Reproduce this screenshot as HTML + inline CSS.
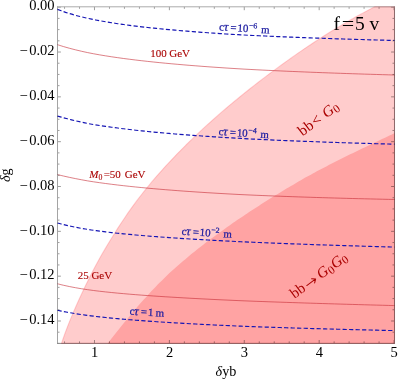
<!DOCTYPE html>
<html><head><meta charset="utf-8"><style>html,body{margin:0;padding:0;background:#fff}body{width:399px;height:380px;overflow:hidden;position:relative;font-family:"Liberation Serif",serif}</style></head><body><svg width="399" height="380" viewBox="0 0 399 380" style="position:absolute;left:0;top:0" font-family="Liberation Serif, serif">
<rect width="399" height="380" fill="#fff"/>
<path d="M61.46,343.40 C62.13,341.50 64.14,335.64 65.48,332.00 C66.82,328.36 68.16,324.93 69.50,321.58 C70.84,318.22 72.17,315.02 73.51,311.88 C74.85,308.74 76.19,305.71 77.53,302.73 C78.87,299.74 80.21,296.84 81.55,293.98 C82.89,291.12 84.22,288.32 85.56,285.56 C86.90,282.80 88.24,280.10 89.58,277.44 C90.92,274.78 92.26,272.18 93.60,269.62 C94.93,267.06 96.27,264.56 97.61,262.10 C98.95,259.63 100.29,257.22 101.63,254.85 C102.97,252.48 104.31,250.17 105.65,247.88 C106.98,245.60 108.32,243.37 109.66,241.17 C111.00,238.97 112.34,236.81 113.68,234.67 C115.02,232.54 116.36,230.43 117.69,228.35 C119.03,226.27 120.37,224.22 121.71,222.19 C123.05,220.17 124.39,218.17 125.73,216.21 C127.07,214.25 128.40,212.32 129.74,210.42 C131.08,208.53 132.42,206.67 133.76,204.84 C135.10,203.01 136.44,201.22 137.78,199.45 C139.12,197.68 140.45,195.94 141.79,194.23 C143.13,192.52 144.47,190.83 145.81,189.17 C147.15,187.51 148.49,185.88 149.83,184.26 C151.16,182.65 152.50,181.06 153.84,179.48 C155.18,177.91 156.52,176.36 157.86,174.83 C159.20,173.30 160.54,171.79 161.87,170.29 C163.21,168.80 164.55,167.32 165.89,165.86 C167.23,164.39 168.57,162.95 169.91,161.52 C171.25,160.09 172.59,158.67 173.92,157.27 C175.26,155.87 176.60,154.48 177.94,153.11 C179.28,151.74 180.62,150.37 181.96,149.03 C183.30,147.68 184.63,146.34 185.97,145.01 C187.31,143.69 188.65,142.37 189.99,141.07 C191.33,139.77 192.67,138.48 194.01,137.20 C195.35,135.91 196.68,134.64 198.02,133.38 C199.36,132.12 200.70,130.87 202.04,129.63 C203.38,128.39 204.72,127.16 206.06,125.94 C207.39,124.72 208.73,123.50 210.07,122.30 C211.41,121.10 212.75,119.90 214.09,118.72 C215.43,117.53 216.77,116.35 218.10,115.18 C219.44,114.01 220.78,112.85 222.12,111.70 C223.46,110.54 224.80,109.40 226.14,108.26 C227.48,107.12 228.82,105.99 230.15,104.87 C231.49,103.74 232.83,102.63 234.17,101.52 C235.51,100.41 236.85,99.31 238.19,98.21 C239.53,97.12 240.86,96.03 242.20,94.95 C243.54,93.87 244.88,92.79 246.22,91.72 C247.56,90.65 248.90,89.59 250.24,88.53 C251.57,87.48 252.91,86.43 254.25,85.38 C255.59,84.34 256.93,83.30 258.27,82.27 C259.61,81.23 260.95,80.20 262.29,79.18 C263.62,78.16 264.96,77.15 266.30,76.13 C267.64,75.12 268.98,74.12 270.32,73.12 C271.66,72.12 273.00,71.12 274.33,70.13 C275.67,69.14 277.01,68.16 278.35,67.18 C279.69,66.20 281.03,65.22 282.37,64.25 C283.71,63.28 285.05,62.32 286.38,61.36 C287.72,60.40 289.06,59.44 290.40,58.49 C291.74,57.55 293.08,56.60 294.42,55.66 C295.76,54.72 297.09,53.79 298.43,52.86 C299.77,51.94 301.11,51.02 302.45,50.10 C303.79,49.19 305.13,48.28 306.47,47.37 C307.80,46.47 309.14,45.57 310.48,44.68 C311.82,43.79 313.16,42.90 314.50,42.02 C315.84,41.14 317.18,40.27 318.52,39.40 C319.85,38.54 321.19,37.68 322.53,36.82 C323.87,35.97 325.21,35.12 326.55,34.28 C327.89,33.44 329.23,32.60 330.56,31.78 C331.90,30.95 333.24,30.12 334.58,29.31 C335.92,28.49 337.26,27.68 338.60,26.88 C339.94,26.08 341.27,25.28 342.61,24.49 C343.95,23.70 345.29,22.92 346.63,22.14 C347.97,21.37 349.31,20.60 350.65,19.83 C351.99,19.07 353.32,18.31 354.66,17.56 C356.00,16.81 357.34,16.07 358.68,15.33 C360.02,14.60 361.36,13.86 362.70,13.14 C364.03,12.42 365.37,11.70 366.71,10.99 C368.05,10.28 369.39,9.57 370.73,8.87 C372.07,8.18 374.08,7.15 374.75,6.80 L394.50,6.80 L394.50,343.40 Z" fill="#ffcccc"/>
<path d="M107.72,343.40 C108.38,342.56 110.37,340.04 111.70,338.36 C113.03,336.68 114.35,335.00 115.68,333.33 C117.01,331.65 118.34,329.98 119.67,328.32 C120.99,326.66 122.32,325.01 123.65,323.37 C124.98,321.73 126.30,320.10 127.63,318.48 C128.96,316.87 130.29,315.26 131.61,313.68 C132.94,312.09 134.27,310.51 135.60,308.96 C136.93,307.40 138.25,305.86 139.58,304.34 C140.91,302.81 142.24,301.30 143.56,299.82 C144.89,298.33 146.22,296.86 147.55,295.40 C148.87,293.95 150.20,292.52 151.53,291.10 C152.86,289.69 154.19,288.29 155.51,286.92 C156.84,285.54 158.17,284.19 159.50,282.85 C160.82,281.51 162.15,280.19 163.48,278.90 C164.81,277.60 166.13,276.32 167.46,275.06 C168.79,273.80 170.12,272.56 171.45,271.34 C172.77,270.12 174.10,268.91 175.43,267.72 C176.76,266.53 178.08,265.35 179.41,264.19 C180.74,263.03 182.07,261.89 183.39,260.76 C184.72,259.62 186.05,258.50 187.38,257.40 C188.71,256.29 190.03,255.20 191.36,254.11 C192.69,253.03 194.02,251.96 195.34,250.90 C196.67,249.84 198.00,248.79 199.33,247.75 C200.66,246.70 201.98,245.67 203.31,244.65 C204.64,243.63 205.97,242.62 207.29,241.61 C208.62,240.61 209.95,239.61 211.28,238.62 C212.60,237.63 213.93,236.65 215.26,235.68 C216.59,234.71 217.92,233.74 219.24,232.78 C220.57,231.82 221.90,230.87 223.23,229.92 C224.55,228.98 225.88,228.04 227.21,227.10 C228.54,226.17 229.86,225.24 231.19,224.32 C232.52,223.39 233.85,222.48 235.18,221.56 C236.50,220.65 237.83,219.74 239.16,218.84 C240.49,217.94 241.81,217.04 243.14,216.15 C244.47,215.25 245.80,214.36 247.12,213.48 C248.45,212.60 249.78,211.71 251.11,210.84 C252.44,209.96 253.76,209.09 255.09,208.22 C256.42,207.36 257.75,206.49 259.07,205.64 C260.40,204.78 261.73,203.93 263.06,203.08 C264.38,202.23 265.71,201.39 267.04,200.55 C268.37,199.71 269.70,198.87 271.02,198.05 C272.35,197.22 273.68,196.39 275.01,195.57 C276.33,194.75 277.66,193.94 278.99,193.13 C280.32,192.32 281.65,191.52 282.97,190.72 C284.30,189.92 285.63,189.12 286.96,188.33 C288.28,187.54 289.61,186.76 290.94,185.98 C292.27,185.20 293.59,184.42 294.92,183.66 C296.25,182.89 297.58,182.12 298.91,181.36 C300.23,180.60 301.56,179.85 302.89,179.10 C304.22,178.35 305.54,177.60 306.87,176.86 C308.20,176.12 309.53,175.39 310.85,174.66 C312.18,173.93 313.51,173.20 314.84,172.48 C316.17,171.76 317.49,171.05 318.82,170.34 C320.15,169.63 321.48,168.92 322.80,168.22 C324.13,167.52 325.46,166.83 326.79,166.14 C328.11,165.45 329.44,164.76 330.77,164.08 C332.10,163.40 333.43,162.72 334.75,162.05 C336.08,161.37 337.41,160.70 338.74,160.04 C340.06,159.37 341.39,158.71 342.72,158.05 C344.05,157.39 345.37,156.73 346.70,156.07 C348.03,155.42 349.36,154.77 350.69,154.12 C352.01,153.47 353.34,152.82 354.67,152.18 C356.00,151.53 357.32,150.89 358.65,150.24 C359.98,149.60 361.31,148.96 362.64,148.32 C363.96,147.68 365.29,147.05 366.62,146.41 C367.95,145.77 369.27,145.14 370.60,144.50 C371.93,143.87 373.26,143.24 374.58,142.60 C375.91,141.97 377.24,141.34 378.57,140.71 C379.90,140.08 381.22,139.44 382.55,138.81 C383.88,138.18 385.21,137.55 386.53,136.92 C387.86,136.29 389.19,135.66 390.52,135.03 C391.84,134.40 393.84,133.45 394.50,133.13 L394.50,343.40 Z" fill="#ffa3a3"/>
<path d="M61.46,343.40 C62.13,341.50 64.14,335.64 65.48,332.00 C66.82,328.36 68.16,324.93 69.50,321.58 C70.84,318.22 72.17,315.02 73.51,311.88 C74.85,308.74 76.19,305.71 77.53,302.73 C78.87,299.74 80.21,296.84 81.55,293.98 C82.89,291.12 84.22,288.32 85.56,285.56 C86.90,282.80 88.24,280.10 89.58,277.44 C90.92,274.78 92.26,272.18 93.60,269.62 C94.93,267.06 96.27,264.56 97.61,262.10 C98.95,259.63 100.29,257.22 101.63,254.85 C102.97,252.48 104.31,250.17 105.65,247.88 C106.98,245.60 108.32,243.37 109.66,241.17 C111.00,238.97 112.34,236.81 113.68,234.67 C115.02,232.54 116.36,230.43 117.69,228.35 C119.03,226.27 120.37,224.22 121.71,222.19 C123.05,220.17 124.39,218.17 125.73,216.21 C127.07,214.25 128.40,212.32 129.74,210.42 C131.08,208.53 132.42,206.67 133.76,204.84 C135.10,203.01 136.44,201.22 137.78,199.45 C139.12,197.68 140.45,195.94 141.79,194.23 C143.13,192.52 144.47,190.83 145.81,189.17 C147.15,187.51 148.49,185.88 149.83,184.26 C151.16,182.65 152.50,181.06 153.84,179.48 C155.18,177.91 156.52,176.36 157.86,174.83 C159.20,173.30 160.54,171.79 161.87,170.29 C163.21,168.80 164.55,167.32 165.89,165.86 C167.23,164.39 168.57,162.95 169.91,161.52 C171.25,160.09 172.59,158.67 173.92,157.27 C175.26,155.87 176.60,154.48 177.94,153.11 C179.28,151.74 180.62,150.37 181.96,149.03 C183.30,147.68 184.63,146.34 185.97,145.01 C187.31,143.69 188.65,142.37 189.99,141.07 C191.33,139.77 192.67,138.48 194.01,137.20 C195.35,135.91 196.68,134.64 198.02,133.38 C199.36,132.12 200.70,130.87 202.04,129.63 C203.38,128.39 204.72,127.16 206.06,125.94 C207.39,124.72 208.73,123.50 210.07,122.30 C211.41,121.10 212.75,119.90 214.09,118.72 C215.43,117.53 216.77,116.35 218.10,115.18 C219.44,114.01 220.78,112.85 222.12,111.70 C223.46,110.54 224.80,109.40 226.14,108.26 C227.48,107.12 228.82,105.99 230.15,104.87 C231.49,103.74 232.83,102.63 234.17,101.52 C235.51,100.41 236.85,99.31 238.19,98.21 C239.53,97.12 240.86,96.03 242.20,94.95 C243.54,93.87 244.88,92.79 246.22,91.72 C247.56,90.65 248.90,89.59 250.24,88.53 C251.57,87.48 252.91,86.43 254.25,85.38 C255.59,84.34 256.93,83.30 258.27,82.27 C259.61,81.23 260.95,80.20 262.29,79.18 C263.62,78.16 264.96,77.15 266.30,76.13 C267.64,75.12 268.98,74.12 270.32,73.12 C271.66,72.12 273.00,71.12 274.33,70.13 C275.67,69.14 277.01,68.16 278.35,67.18 C279.69,66.20 281.03,65.22 282.37,64.25 C283.71,63.28 285.05,62.32 286.38,61.36 C287.72,60.40 289.06,59.44 290.40,58.49 C291.74,57.55 293.08,56.60 294.42,55.66 C295.76,54.72 297.09,53.79 298.43,52.86 C299.77,51.94 301.11,51.02 302.45,50.10 C303.79,49.19 305.13,48.28 306.47,47.37 C307.80,46.47 309.14,45.57 310.48,44.68 C311.82,43.79 313.16,42.90 314.50,42.02 C315.84,41.14 317.18,40.27 318.52,39.40 C319.85,38.54 321.19,37.68 322.53,36.82 C323.87,35.97 325.21,35.12 326.55,34.28 C327.89,33.44 329.23,32.60 330.56,31.78 C331.90,30.95 333.24,30.12 334.58,29.31 C335.92,28.49 337.26,27.68 338.60,26.88 C339.94,26.08 341.27,25.28 342.61,24.49 C343.95,23.70 345.29,22.92 346.63,22.14 C347.97,21.37 349.31,20.60 350.65,19.83 C351.99,19.07 353.32,18.31 354.66,17.56 C356.00,16.81 357.34,16.07 358.68,15.33 C360.02,14.60 361.36,13.86 362.70,13.14 C364.03,12.42 365.37,11.70 366.71,10.99 C368.05,10.28 369.39,9.57 370.73,8.87 C372.07,8.18 374.08,7.15 374.75,6.80 L394.50,6.80 L394.50,343.40 Z" fill="none" stroke="rgba(255,60,70,0.22)" stroke-width="1.1"/>
<path d="M57.50,44.69 C58.50,45.01 61.51,45.98 63.52,46.58 C65.52,47.18 67.53,47.74 69.54,48.29 C71.54,48.83 73.55,49.35 75.55,49.84 C77.56,50.34 79.57,50.82 81.57,51.27 C83.58,51.73 85.58,52.18 87.59,52.59 C89.60,53.01 91.60,53.40 93.61,53.78 C95.61,54.15 97.62,54.50 99.62,54.85 C101.63,55.19 103.64,55.53 105.64,55.85 C107.65,56.17 109.65,56.48 111.66,56.79 C113.67,57.09 115.67,57.38 117.68,57.67 C119.68,57.95 121.69,58.23 123.70,58.50 C125.70,58.77 127.71,59.03 129.71,59.28 C131.72,59.54 133.73,59.78 135.73,60.03 C137.74,60.27 139.74,60.50 141.75,60.73 C143.76,60.96 145.76,61.18 147.77,61.40 C149.77,61.62 151.78,61.84 153.79,62.04 C155.79,62.25 157.80,62.46 159.80,62.66 C161.81,62.86 163.82,63.05 165.82,63.24 C167.83,63.43 169.83,63.62 171.84,63.80 C173.85,63.99 175.85,64.17 177.86,64.34 C179.86,64.52 181.87,64.69 183.88,64.86 C185.88,65.03 187.89,65.19 189.89,65.36 C191.90,65.52 193.90,65.68 195.91,65.84 C197.92,65.99 199.92,66.15 201.93,66.30 C203.93,66.45 205.94,66.60 207.95,66.75 C209.95,66.89 211.96,67.03 213.96,67.18 C215.97,67.32 217.98,67.46 219.98,67.59 C221.99,67.73 223.99,67.86 226.00,68.00 C228.01,68.13 230.01,68.26 232.02,68.39 C234.02,68.51 236.03,68.64 238.04,68.76 C240.04,68.88 242.05,69.00 244.05,69.11 C246.06,69.22 248.07,69.33 250.07,69.43 C252.08,69.54 254.08,69.65 256.09,69.75 C258.10,69.85 260.10,69.95 262.11,70.05 C264.11,70.15 266.12,70.25 268.12,70.35 C270.13,70.45 272.14,70.54 274.14,70.64 C276.15,70.73 278.15,70.82 280.16,70.92 C282.17,71.01 284.17,71.10 286.18,71.19 C288.18,71.28 290.19,71.36 292.20,71.45 C294.20,71.54 296.21,71.62 298.21,71.70 C300.22,71.79 302.23,71.87 304.23,71.95 C306.24,72.03 308.24,72.12 310.25,72.19 C312.26,72.27 314.26,72.35 316.27,72.43 C318.27,72.51 320.28,72.58 322.29,72.66 C324.29,72.73 326.30,72.81 328.30,72.88 C330.31,72.96 332.32,73.03 334.32,73.10 C336.33,73.17 338.33,73.24 340.34,73.31 C342.35,73.38 344.35,73.45 346.36,73.52 C348.36,73.59 350.37,73.65 352.38,73.72 C354.38,73.79 356.39,73.85 358.39,73.92 C360.40,73.98 362.40,74.04 364.41,74.11 C366.42,74.17 368.42,74.23 370.43,74.29 C372.43,74.36 374.44,74.42 376.45,74.48 C378.45,74.54 380.46,74.60 382.46,74.66 C384.47,74.72 386.48,74.77 388.48,74.83 C390.49,74.89 393.50,74.97 394.50,75.00" fill="none" stroke="rgba(196,40,50,0.62)" stroke-width="0.95"/>
<path d="M57.50,174.60 C58.50,174.84 61.51,175.58 63.52,176.04 C65.52,176.51 67.53,176.95 69.54,177.38 C71.54,177.80 73.55,178.22 75.55,178.62 C77.56,179.01 79.57,179.40 81.57,179.77 C83.58,180.15 85.58,180.52 87.59,180.86 C89.60,181.20 91.60,181.52 93.61,181.82 C95.61,182.13 97.62,182.41 99.62,182.69 C101.63,182.97 103.64,183.25 105.64,183.51 C107.65,183.78 109.65,184.03 111.66,184.29 C113.67,184.54 115.67,184.78 117.68,185.02 C119.68,185.25 121.69,185.48 123.70,185.71 C125.70,185.93 127.71,186.15 129.71,186.37 C131.72,186.58 133.73,186.79 135.73,186.99 C137.74,187.20 139.74,187.40 141.75,187.59 C143.76,187.78 145.76,187.97 147.77,188.16 C149.77,188.35 151.78,188.53 153.79,188.70 C155.79,188.88 157.80,189.06 159.80,189.23 C161.81,189.40 163.82,189.56 165.82,189.72 C167.83,189.89 169.83,190.05 171.84,190.20 C173.85,190.36 175.85,190.51 177.86,190.66 C179.86,190.81 181.87,190.96 183.88,191.11 C185.88,191.25 187.89,191.39 189.89,191.53 C191.90,191.67 193.90,191.81 195.91,191.94 C197.92,192.08 199.92,192.21 201.93,192.34 C203.93,192.47 205.94,192.59 207.95,192.72 C209.95,192.84 211.96,192.97 213.96,193.09 C215.97,193.21 217.98,193.33 219.98,193.44 C221.99,193.56 223.99,193.67 226.00,193.79 C228.01,193.90 230.01,194.01 232.02,194.12 C234.02,194.23 236.03,194.34 238.04,194.44 C240.04,194.54 242.05,194.64 244.05,194.73 C246.06,194.83 248.07,194.92 250.07,195.01 C252.08,195.09 254.08,195.18 256.09,195.27 C258.10,195.35 260.10,195.44 262.11,195.52 C264.11,195.60 266.12,195.69 268.12,195.77 C270.13,195.85 272.14,195.93 274.14,196.00 C276.15,196.08 278.15,196.16 280.16,196.23 C282.17,196.31 284.17,196.38 286.18,196.46 C288.18,196.53 290.19,196.60 292.20,196.67 C294.20,196.74 296.21,196.81 298.21,196.88 C300.22,196.95 302.23,197.02 304.23,197.08 C306.24,197.15 308.24,197.22 310.25,197.28 C312.26,197.34 314.26,197.41 316.27,197.47 C318.27,197.53 320.28,197.59 322.29,197.66 C324.29,197.72 326.30,197.78 328.30,197.83 C330.31,197.89 332.32,197.95 334.32,198.01 C336.33,198.07 338.33,198.12 340.34,198.18 C342.35,198.23 344.35,198.29 346.36,198.34 C348.36,198.40 350.37,198.45 352.38,198.50 C354.38,198.55 356.39,198.60 358.39,198.66 C360.40,198.71 362.40,198.76 364.41,198.81 C366.42,198.86 368.42,198.90 370.43,198.95 C372.43,199.00 374.44,199.05 376.45,199.09 C378.45,199.14 380.46,199.19 382.46,199.23 C384.47,199.28 386.48,199.32 388.48,199.37 C390.49,199.41 393.50,199.47 394.50,199.50" fill="none" stroke="rgba(196,40,50,0.62)" stroke-width="0.95"/>
<path d="M57.50,283.79 C58.50,284.04 61.51,284.81 63.52,285.28 C65.52,285.74 67.53,286.16 69.54,286.57 C71.54,286.98 73.55,287.35 75.55,287.72 C77.56,288.08 79.57,288.42 81.57,288.75 C83.58,289.08 85.58,289.39 87.59,289.68 C89.60,289.98 91.60,290.25 93.61,290.50 C95.61,290.76 97.62,291.00 99.62,291.24 C101.63,291.47 103.64,291.70 105.64,291.91 C107.65,292.13 109.65,292.34 111.66,292.54 C113.67,292.74 115.67,292.94 117.68,293.13 C119.68,293.31 121.69,293.50 123.70,293.67 C125.70,293.85 127.71,294.02 129.71,294.19 C131.72,294.36 133.73,294.52 135.73,294.68 C137.74,294.84 139.74,294.99 141.75,295.15 C143.76,295.30 145.76,295.44 147.77,295.59 C149.77,295.73 151.78,295.87 153.79,296.01 C155.79,296.15 157.80,296.28 159.80,296.41 C161.81,296.55 163.82,296.67 165.82,296.80 C167.83,296.93 169.83,297.05 171.84,297.17 C173.85,297.30 175.85,297.42 177.86,297.53 C179.86,297.65 181.87,297.77 183.88,297.88 C185.88,298.00 187.89,298.11 189.89,298.22 C191.90,298.33 193.90,298.44 195.91,298.54 C197.92,298.65 199.92,298.76 201.93,298.86 C203.93,298.96 205.94,299.07 207.95,299.17 C209.95,299.27 211.96,299.37 213.96,299.47 C215.97,299.56 217.98,299.66 219.98,299.76 C221.99,299.85 223.99,299.95 226.00,300.04 C228.01,300.14 230.01,300.23 232.02,300.32 C234.02,300.41 236.03,300.50 238.04,300.59 C240.04,300.68 242.05,300.76 244.05,300.84 C246.06,300.92 248.07,300.99 250.07,301.07 C252.08,301.15 254.08,301.22 256.09,301.30 C258.10,301.37 260.10,301.45 262.11,301.52 C264.11,301.60 266.12,301.67 268.12,301.74 C270.13,301.81 272.14,301.88 274.14,301.96 C276.15,302.03 278.15,302.10 280.16,302.17 C282.17,302.23 284.17,302.30 286.18,302.37 C288.18,302.44 290.19,302.51 292.20,302.57 C294.20,302.64 296.21,302.71 298.21,302.77 C300.22,302.84 302.23,302.90 304.23,302.97 C306.24,303.03 308.24,303.10 310.25,303.16 C312.26,303.22 314.26,303.29 316.27,303.35 C318.27,303.41 320.28,303.47 322.29,303.54 C324.29,303.60 326.30,303.66 328.30,303.72 C330.31,303.78 332.32,303.84 334.32,303.90 C336.33,303.96 338.33,304.02 340.34,304.08 C342.35,304.14 344.35,304.20 346.36,304.25 C348.36,304.31 350.37,304.37 352.38,304.43 C354.38,304.49 356.39,304.54 358.39,304.60 C360.40,304.66 362.40,304.71 364.41,304.77 C366.42,304.82 368.42,304.88 370.43,304.94 C372.43,304.99 374.44,305.05 376.45,305.10 C378.45,305.16 380.46,305.21 382.46,305.26 C384.47,305.32 386.48,305.37 388.48,305.43 C390.49,305.48 393.50,305.56 394.50,305.58" fill="none" stroke="rgba(196,40,50,0.62)" stroke-width="0.95"/>
<path d="M57.50,9.39 C58.50,9.76 61.51,10.92 63.52,11.61 C65.52,12.31 67.53,12.95 69.54,13.57 C71.54,14.18 73.55,14.76 75.55,15.31 C77.56,15.86 79.57,16.37 81.57,16.87 C83.58,17.37 85.58,17.84 87.59,18.29 C89.60,18.74 91.60,19.16 93.61,19.57 C95.61,19.97 97.62,20.35 99.62,20.72 C101.63,21.09 103.64,21.45 105.64,21.79 C107.65,22.13 109.65,22.46 111.66,22.78 C113.67,23.09 115.67,23.40 117.68,23.70 C119.68,23.99 121.69,24.28 123.70,24.55 C125.70,24.83 127.71,25.10 129.71,25.36 C131.72,25.62 133.73,25.87 135.73,26.11 C137.74,26.36 139.74,26.60 141.75,26.83 C143.76,27.06 145.76,27.28 147.77,27.50 C149.77,27.72 151.78,27.93 153.79,28.14 C155.79,28.35 157.80,28.55 159.80,28.75 C161.81,28.95 163.82,29.14 165.82,29.33 C167.83,29.52 169.83,29.70 171.84,29.88 C173.85,30.06 175.85,30.24 177.86,30.41 C179.86,30.58 181.87,30.75 183.88,30.92 C185.88,31.08 187.89,31.24 189.89,31.40 C191.90,31.56 193.90,31.71 195.91,31.87 C197.92,32.02 199.92,32.17 201.93,32.31 C203.93,32.46 205.94,32.60 207.95,32.74 C209.95,32.89 211.96,33.02 213.96,33.16 C215.97,33.30 217.98,33.43 219.98,33.56 C221.99,33.69 223.99,33.82 226.00,33.95 C228.01,34.08 230.01,34.20 232.02,34.32 C234.02,34.45 236.03,34.57 238.04,34.69 C240.04,34.80 242.05,34.91 244.05,35.01 C246.06,35.12 248.07,35.22 250.07,35.32 C252.08,35.41 254.08,35.51 256.09,35.61 C258.10,35.70 260.10,35.80 262.11,35.89 C264.11,35.98 266.12,36.07 268.12,36.16 C270.13,36.25 272.14,36.34 274.14,36.43 C276.15,36.52 278.15,36.60 280.16,36.69 C282.17,36.77 284.17,36.86 286.18,36.94 C288.18,37.02 290.19,37.10 292.20,37.18 C294.20,37.26 296.21,37.34 298.21,37.42 C300.22,37.49 302.23,37.57 304.23,37.65 C306.24,37.72 308.24,37.80 310.25,37.87 C312.26,37.94 314.26,38.01 316.27,38.09 C318.27,38.16 320.28,38.23 322.29,38.30 C324.29,38.37 326.30,38.44 328.30,38.50 C330.31,38.57 332.32,38.64 334.32,38.70 C336.33,38.77 338.33,38.84 340.34,38.90 C342.35,38.96 344.35,39.03 346.36,39.09 C348.36,39.15 350.37,39.22 352.38,39.28 C354.38,39.34 356.39,39.40 358.39,39.46 C360.40,39.52 362.40,39.58 364.41,39.64 C366.42,39.69 368.42,39.75 370.43,39.81 C372.43,39.87 374.44,39.92 376.45,39.98 C378.45,40.04 380.46,40.09 382.46,40.15 C384.47,40.20 386.48,40.25 388.48,40.31 C390.49,40.36 393.50,40.44 394.50,40.47" fill="none" stroke="#1414b4" stroke-width="1.15" stroke-dasharray="4.2,2.3"/>
<path d="M57.50,116.09 C58.50,116.37 61.51,117.24 63.52,117.78 C65.52,118.32 67.53,118.84 69.54,119.35 C71.54,119.85 73.55,120.34 75.55,120.81 C77.56,121.28 79.57,121.73 81.57,122.17 C83.58,122.62 85.58,123.06 87.59,123.46 C89.60,123.85 91.60,124.21 93.61,124.55 C95.61,124.90 97.62,125.20 99.62,125.51 C101.63,125.82 103.64,126.11 105.64,126.40 C107.65,126.70 109.65,126.98 111.66,127.25 C113.67,127.52 115.67,127.79 117.68,128.05 C119.68,128.31 121.69,128.56 123.70,128.80 C125.70,129.05 127.71,129.29 129.71,129.52 C131.72,129.75 133.73,129.98 135.73,130.20 C137.74,130.43 139.74,130.64 141.75,130.85 C143.76,131.06 145.76,131.27 147.77,131.47 C149.77,131.67 151.78,131.87 153.79,132.06 C155.79,132.26 157.80,132.44 159.80,132.63 C161.81,132.81 163.82,132.99 165.82,133.17 C167.83,133.35 169.83,133.52 171.84,133.69 C173.85,133.86 175.85,134.03 177.86,134.19 C179.86,134.35 181.87,134.51 183.88,134.67 C185.88,134.83 187.89,134.98 189.89,135.13 C191.90,135.28 193.90,135.43 195.91,135.57 C197.92,135.72 199.92,135.86 201.93,136.00 C203.93,136.14 205.94,136.28 207.95,136.41 C209.95,136.55 211.96,136.68 213.96,136.81 C215.97,136.94 217.98,137.07 219.98,137.20 C221.99,137.32 223.99,137.45 226.00,137.57 C228.01,137.69 230.01,137.81 232.02,137.93 C234.02,138.05 236.03,138.17 238.04,138.28 C240.04,138.39 242.05,138.50 244.05,138.60 C246.06,138.71 248.07,138.81 250.07,138.92 C252.08,139.02 254.08,139.12 256.09,139.22 C258.10,139.32 260.10,139.41 262.11,139.51 C264.11,139.61 266.12,139.70 268.12,139.79 C270.13,139.89 272.14,139.98 274.14,140.07 C276.15,140.16 278.15,140.25 280.16,140.33 C282.17,140.42 284.17,140.51 286.18,140.59 C288.18,140.68 290.19,140.76 292.20,140.84 C294.20,140.92 296.21,141.00 298.21,141.08 C300.22,141.16 302.23,141.24 304.23,141.32 C306.24,141.40 308.24,141.47 310.25,141.55 C312.26,141.63 314.26,141.70 316.27,141.77 C318.27,141.85 320.28,141.92 322.29,141.99 C324.29,142.06 326.30,142.13 328.30,142.20 C330.31,142.27 332.32,142.34 334.32,142.41 C336.33,142.47 338.33,142.54 340.34,142.61 C342.35,142.67 344.35,142.74 346.36,142.80 C348.36,142.86 350.37,142.93 352.38,142.99 C354.38,143.05 356.39,143.11 358.39,143.17 C360.40,143.23 362.40,143.29 364.41,143.35 C366.42,143.41 368.42,143.47 370.43,143.53 C372.43,143.59 374.44,143.64 376.45,143.70 C378.45,143.75 380.46,143.81 382.46,143.86 C384.47,143.92 386.48,143.97 388.48,144.03 C390.49,144.08 393.50,144.16 394.50,144.18" fill="none" stroke="#1414b4" stroke-width="1.15" stroke-dasharray="4.2,2.3"/>
<path d="M57.50,222.98 C58.50,223.25 61.51,224.08 63.52,224.58 C65.52,225.08 67.53,225.55 69.54,225.99 C71.54,226.43 73.55,226.84 75.55,227.24 C77.56,227.64 79.57,228.01 81.57,228.37 C83.58,228.73 85.58,229.07 87.59,229.40 C89.60,229.72 91.60,230.02 93.61,230.31 C95.61,230.59 97.62,230.86 99.62,231.12 C101.63,231.38 103.64,231.63 105.64,231.88 C107.65,232.12 109.65,232.35 111.66,232.58 C113.67,232.80 115.67,233.02 117.68,233.23 C119.68,233.45 121.69,233.65 123.70,233.85 C125.70,234.05 127.71,234.24 129.71,234.43 C131.72,234.62 133.73,234.80 135.73,234.98 C137.74,235.16 139.74,235.33 141.75,235.50 C143.76,235.67 145.76,235.84 147.77,236.00 C149.77,236.16 151.78,236.32 153.79,236.47 C155.79,236.63 157.80,236.78 159.80,236.93 C161.81,237.08 163.82,237.22 165.82,237.36 C167.83,237.51 169.83,237.65 171.84,237.78 C173.85,237.92 175.85,238.06 177.86,238.19 C179.86,238.32 181.87,238.45 183.88,238.58 C185.88,238.70 187.89,238.83 189.89,238.95 C191.90,239.08 193.90,239.20 195.91,239.32 C197.92,239.44 199.92,239.56 201.93,239.67 C203.93,239.79 205.94,239.90 207.95,240.02 C209.95,240.13 211.96,240.24 213.96,240.35 C215.97,240.46 217.98,240.57 219.98,240.67 C221.99,240.78 223.99,240.89 226.00,240.99 C228.01,241.10 230.01,241.20 232.02,241.30 C234.02,241.40 236.03,241.50 238.04,241.60 C240.04,241.70 242.05,241.79 244.05,241.88 C246.06,241.97 248.07,242.05 250.07,242.14 C252.08,242.22 254.08,242.31 256.09,242.39 C258.10,242.48 260.10,242.56 262.11,242.64 C264.11,242.72 266.12,242.80 268.12,242.89 C270.13,242.97 272.14,243.04 274.14,243.12 C276.15,243.20 278.15,243.28 280.16,243.36 C282.17,243.43 284.17,243.51 286.18,243.59 C288.18,243.66 290.19,243.74 292.20,243.81 C294.20,243.88 296.21,243.96 298.21,244.03 C300.22,244.10 302.23,244.17 304.23,244.25 C306.24,244.32 308.24,244.39 310.25,244.46 C312.26,244.53 314.26,244.60 316.27,244.67 C318.27,244.73 320.28,244.80 322.29,244.87 C324.29,244.94 326.30,245.01 328.30,245.07 C330.31,245.14 332.32,245.20 334.32,245.27 C336.33,245.34 338.33,245.40 340.34,245.47 C342.35,245.53 344.35,245.59 346.36,245.66 C348.36,245.72 350.37,245.78 352.38,245.85 C354.38,245.91 356.39,245.97 358.39,246.03 C360.40,246.10 362.40,246.16 364.41,246.22 C366.42,246.28 368.42,246.34 370.43,246.40 C372.43,246.46 374.44,246.52 376.45,246.58 C378.45,246.64 380.46,246.70 382.46,246.75 C384.47,246.81 386.48,246.87 388.48,246.93 C390.49,246.99 393.50,247.07 394.50,247.10" fill="none" stroke="#1414b4" stroke-width="1.15" stroke-dasharray="4.2,2.3"/>
<path d="M57.50,310.30 C58.50,310.51 61.51,311.14 63.52,311.53 C65.52,311.92 67.53,312.29 69.54,312.64 C71.54,312.99 73.55,313.33 75.55,313.65 C77.56,313.97 79.57,314.28 81.57,314.57 C83.58,314.87 85.58,315.16 87.59,315.43 C89.60,315.69 91.60,315.94 93.61,316.18 C95.61,316.43 97.62,316.65 99.62,316.87 C101.63,317.09 103.64,317.30 105.64,317.51 C107.65,317.72 109.65,317.92 111.66,318.11 C113.67,318.31 115.67,318.49 117.68,318.68 C119.68,318.86 121.69,319.04 123.70,319.21 C125.70,319.38 127.71,319.55 129.71,319.72 C131.72,319.88 133.73,320.04 135.73,320.20 C137.74,320.36 139.74,320.51 141.75,320.66 C143.76,320.81 145.76,320.95 147.77,321.10 C149.77,321.24 151.78,321.38 153.79,321.52 C155.79,321.65 157.80,321.79 159.80,321.92 C161.81,322.05 163.82,322.18 165.82,322.31 C167.83,322.43 169.83,322.56 171.84,322.68 C173.85,322.80 175.85,322.92 177.86,323.04 C179.86,323.15 181.87,323.27 183.88,323.38 C185.88,323.50 187.89,323.61 189.89,323.72 C191.90,323.83 193.90,323.93 195.91,324.04 C197.92,324.15 199.92,324.25 201.93,324.35 C203.93,324.46 205.94,324.56 207.95,324.66 C209.95,324.76 211.96,324.86 213.96,324.95 C215.97,325.05 217.98,325.15 219.98,325.24 C221.99,325.33 223.99,325.43 226.00,325.52 C228.01,325.61 230.01,325.70 232.02,325.79 C234.02,325.88 236.03,325.97 238.04,326.05 C240.04,326.14 242.05,326.22 244.05,326.29 C246.06,326.37 248.07,326.44 250.07,326.52 C252.08,326.59 254.08,326.66 256.09,326.74 C258.10,326.81 260.10,326.88 262.11,326.95 C264.11,327.02 266.12,327.09 268.12,327.15 C270.13,327.22 272.14,327.29 274.14,327.36 C276.15,327.42 278.15,327.49 280.16,327.55 C282.17,327.62 284.17,327.68 286.18,327.75 C288.18,327.81 290.19,327.87 292.20,327.93 C294.20,328.00 296.21,328.06 298.21,328.12 C300.22,328.18 302.23,328.24 304.23,328.30 C306.24,328.36 308.24,328.41 310.25,328.47 C312.26,328.53 314.26,328.59 316.27,328.64 C318.27,328.70 320.28,328.76 322.29,328.81 C324.29,328.87 326.30,328.92 328.30,328.98 C330.31,329.03 332.32,329.08 334.32,329.14 C336.33,329.19 338.33,329.24 340.34,329.30 C342.35,329.35 344.35,329.40 346.36,329.45 C348.36,329.50 350.37,329.55 352.38,329.60 C354.38,329.65 356.39,329.70 358.39,329.75 C360.40,329.80 362.40,329.85 364.41,329.90 C366.42,329.95 368.42,329.99 370.43,330.04 C372.43,330.09 374.44,330.13 376.45,330.18 C378.45,330.23 380.46,330.27 382.46,330.32 C384.47,330.37 386.48,330.41 388.48,330.46 C390.49,330.50 393.50,330.57 394.50,330.59" fill="none" stroke="#1414b4" stroke-width="1.15" stroke-dasharray="4.2,2.3"/>
<g style="mix-blend-mode:multiply"><path d="M64.54,343.40 v-2.00 M64.54,6.80 v2.00 M79.52,343.40 v-2.00 M79.52,6.80 v2.00 M94.49,343.40 v-3.40 M94.49,6.80 v3.40 M109.47,343.40 v-2.00 M109.47,6.80 v2.00 M124.45,343.40 v-2.00 M124.45,6.80 v2.00 M139.43,343.40 v-2.00 M139.43,6.80 v2.00 M154.41,343.40 v-2.00 M154.41,6.80 v2.00 M169.38,343.40 v-3.40 M169.38,6.80 v3.40 M184.36,343.40 v-2.00 M184.36,6.80 v2.00 M199.34,343.40 v-2.00 M199.34,6.80 v2.00 M214.32,343.40 v-2.00 M214.32,6.80 v2.00 M229.29,343.40 v-2.00 M229.29,6.80 v2.00 M244.27,343.40 v-3.40 M244.27,6.80 v3.40 M259.25,343.40 v-2.00 M259.25,6.80 v2.00 M274.23,343.40 v-2.00 M274.23,6.80 v2.00 M289.21,343.40 v-2.00 M289.21,6.80 v2.00 M304.18,343.40 v-2.00 M304.18,6.80 v2.00 M319.16,343.40 v-3.40 M319.16,6.80 v3.40 M334.14,343.40 v-2.00 M334.14,6.80 v2.00 M349.12,343.40 v-2.00 M349.12,6.80 v2.00 M364.09,343.40 v-2.00 M364.09,6.80 v2.00 M379.07,343.40 v-2.00 M379.07,6.80 v2.00 M394.05,343.40 v-3.40 M394.05,6.80 v3.40 M57.50,7.20 h3.40 M394.50,7.20 h-3.40 M57.50,18.41 h2.00 M394.50,18.41 h-2.00 M57.50,29.61 h2.00 M394.50,29.61 h-2.00 M57.50,40.82 h2.00 M394.50,40.82 h-2.00 M57.50,52.03 h3.40 M394.50,52.03 h-3.40 M57.50,63.23 h2.00 M394.50,63.23 h-2.00 M57.50,74.44 h2.00 M394.50,74.44 h-2.00 M57.50,85.65 h2.00 M394.50,85.65 h-2.00 M57.50,96.85 h3.40 M394.50,96.85 h-3.40 M57.50,108.06 h2.00 M394.50,108.06 h-2.00 M57.50,119.27 h2.00 M394.50,119.27 h-2.00 M57.50,130.47 h2.00 M394.50,130.47 h-2.00 M57.50,141.68 h3.40 M394.50,141.68 h-3.40 M57.50,152.89 h2.00 M394.50,152.89 h-2.00 M57.50,164.09 h2.00 M394.50,164.09 h-2.00 M57.50,175.30 h2.00 M394.50,175.30 h-2.00 M57.50,186.51 h3.40 M394.50,186.51 h-3.40 M57.50,197.71 h2.00 M394.50,197.71 h-2.00 M57.50,208.92 h2.00 M394.50,208.92 h-2.00 M57.50,220.13 h2.00 M394.50,220.13 h-2.00 M57.50,231.33 h3.40 M394.50,231.33 h-3.40 M57.50,242.54 h2.00 M394.50,242.54 h-2.00 M57.50,253.75 h2.00 M394.50,253.75 h-2.00 M57.50,264.95 h2.00 M394.50,264.95 h-2.00 M57.50,276.16 h3.40 M394.50,276.16 h-3.40 M57.50,287.37 h2.00 M394.50,287.37 h-2.00 M57.50,298.57 h2.00 M394.50,298.57 h-2.00 M57.50,309.78 h2.00 M394.50,309.78 h-2.00 M57.50,320.99 h3.40 M394.50,320.99 h-3.40 M57.50,332.19 h2.00 M394.50,332.19 h-2.00 M57.50,343.40 h2.00 M394.50,343.40 h-2.00" stroke="#858585" stroke-width="0.8" fill="none"/>
<path d="M57.50,6.30 V343.90" stroke="#a4a4a4" stroke-width="1"/>
<path d="M394.50,6.30 V343.90" stroke="#8e8e8e" stroke-width="1"/>
<path d="M57.00,6.80 H395.00" stroke="#acacac" stroke-width="1"/>
<path d="M57.00,343.40 H395.00" stroke="#8a8a8a" stroke-width="1"/></g>
<text x="94.64" y="356.6" font-size="14.5" text-anchor="middle" fill="#000">1</text>
<text x="169.53" y="356.6" font-size="14.5" text-anchor="middle" fill="#000">2</text>
<text x="244.42" y="356.6" font-size="14.5" text-anchor="middle" fill="#000">3</text>
<text x="319.31" y="356.6" font-size="14.5" text-anchor="middle" fill="#000">4</text>
<text x="394.20" y="356.6" font-size="14.5" text-anchor="middle" fill="#000">5</text>
<text x="54.6" y="10.20" font-size="14.5" text-anchor="end" fill="#000">0.00</text>
<text x="54.6" y="55.08" font-size="14.5" text-anchor="end" fill="#000">0.02</text>
<text x="19.50" y="55.08" font-size="14.5" fill="#000">−</text>
<text x="54.6" y="99.96" font-size="14.5" text-anchor="end" fill="#000">0.04</text>
<text x="19.50" y="99.96" font-size="14.5" fill="#000">−</text>
<text x="54.6" y="144.84" font-size="14.5" text-anchor="end" fill="#000">0.06</text>
<text x="19.50" y="144.84" font-size="14.5" fill="#000">−</text>
<text x="54.6" y="189.72" font-size="14.5" text-anchor="end" fill="#000">0.08</text>
<text x="19.50" y="189.72" font-size="14.5" fill="#000">−</text>
<text x="54.6" y="234.60" font-size="14.5" text-anchor="end" fill="#000">0.10</text>
<text x="19.50" y="234.60" font-size="14.5" fill="#000">−</text>
<text x="54.6" y="279.48" font-size="14.5" text-anchor="end" fill="#000">0.12</text>
<text x="19.50" y="279.48" font-size="14.5" fill="#000">−</text>
<text x="54.6" y="324.36" font-size="14.5" text-anchor="end" fill="#000">0.14</text>
<text x="19.50" y="324.36" font-size="14.5" fill="#000">−</text>
<text x="215.6" y="375.7" font-size="14.2" fill="#000"><tspan font-style="italic">δ</tspan>yb</text>
<text transform="translate(10.2,182.1) rotate(-90)" font-size="14.2" fill="#000"><tspan font-style="italic">δ</tspan>g</text>
<g font-size="19.5" fill="#000"><text x="333.5" y="29.6">f</text><text transform="translate(341.7,29.6) scale(1.13,1)">=</text><text x="355.0" y="29.6">5</text><text x="369.6" y="29.6">v</text></g>
<g font-size="11.0" fill="#aa0000" stroke="#aa0000" stroke-width="0.1">
<text x="150.3" y="56.5">100</text><text x="169.2" y="56.5">GeV</text>
<text x="77.8" y="278.5">25</text><text x="91.4" y="278.5">GeV</text>
<text x="89.3" y="177.8" font-style="italic">M</text><text x="98.6" y="179.6" font-size="7.8">0</text><text x="103.7" y="177.8">=</text><text x="109.7" y="177.8">50</text><text x="124.7" y="177.8">GeV</text>
</g>
<g transform="translate(219.10,30.30) rotate(3.6)" font-size="10.8" fill="#1a1aa0" stroke="#1a1aa0" stroke-width="0.25">
<text x="0" y="0">c</text><text x="4.6" y="0" font-style="italic" font-size="12.3">τ</text><text x="11.3" y="0">=</text>
<text x="18.2" y="0">10</text><text x="29.6" y="-4.2" font-size="7.8">−6</text><text x="41.9" y="0">m</text>
</g>
<g transform="translate(218.50,135.00) rotate(3.6)" font-size="10.8" fill="#1a1aa0" stroke="#1a1aa0" stroke-width="0.25">
<text x="0" y="0">c</text><text x="4.6" y="0" font-style="italic" font-size="12.3">τ</text><text x="11.3" y="0">=</text>
<text x="18.2" y="0">10</text><text x="29.6" y="-4.2" font-size="7.8">−4</text><text x="41.9" y="0">m</text>
</g>
<g transform="translate(181.40,234.70) rotate(3.6)" font-size="10.8" fill="#1a1aa0" stroke="#1a1aa0" stroke-width="0.25">
<text x="0" y="0">c</text><text x="4.6" y="0" font-style="italic" font-size="12.3">τ</text><text x="11.3" y="0">=</text>
<text x="18.2" y="0">10</text><text x="29.6" y="-4.2" font-size="7.8">−2</text><text x="41.9" y="0">m</text>
</g>
<g transform="translate(129.40,314.60) rotate(3.6)" font-size="10.8" fill="#1a1aa0" stroke="#1a1aa0" stroke-width="0.25">
<text x="0" y="0">c</text><text x="4.6" y="0" font-style="italic" font-size="12.3">τ</text><text x="11.3" y="0">=</text>
<text x="18.4" y="0">1</text><text x="26.2" y="0">m</text>
</g>
<g transform="translate(302.60,136.40) rotate(-37)" font-size="15.2" fill="#aa0000">
<text x="0" y="0">bb</text>
<text x="16.4" y="0">&lt;</text>
<text x="29.9" y="0" font-style="italic">G</text>
<text x="40.9" y="2.2" font-size="11.5">0</text>
</g>
<g transform="translate(294.50,299.10) rotate(-36.5)" font-size="15.2" fill="#aa0000">
<text x="0" y="0">bb</text>
<path d="M17.9,-3.6 H29.0 M25.8,-6.2 L29.0,-3.6 L25.8,-1.0" stroke="#aa0000" stroke-width="1" fill="none" stroke-linecap="round" stroke-linejoin="round"/>
<text x="33.0" y="0" font-style="italic">G</text>
<text x="44.0" y="2.2" font-size="11.5">0</text>
<text x="50.3" y="0" font-style="italic">G</text>
<text x="61.3" y="2.2" font-size="11.5">0</text>
</g>
</svg></body></html>
